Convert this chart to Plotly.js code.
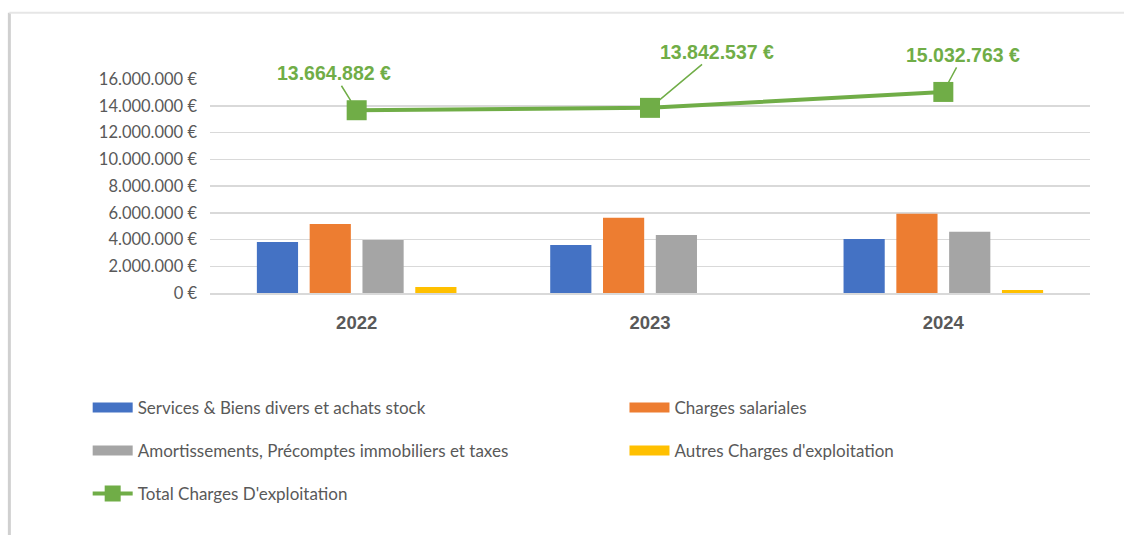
<!DOCTYPE html>
<html>
<head>
<meta charset="utf-8">
<script src="https://cdn.plot.ly/plotly-3.0.1.min.js"></script>
<style>html,body{margin:0;padding:0;background:#fff;}#chart{width:1124px;height:535px;}</style>
</head>
<body>
<div id="chart"></div>
<script>
const years = ['2022', '2023', '2024'];
const services = [3810000, 3590000, 4040000];
const salariales = [5160000, 5630000, 5930000];
const amortissements = [3960000, 4340000, 4580000];
const autres = [450000, 0, 220000];
const totals = [13664882, 13842537, 15032763];
const seriesNames = [
  'Services & Biens divers et achats stock',
  'Charges salariales',
  'Amortissements, Précomptes immobiliers et taxes',
  "Autres Charges d'exploitation",
  "Total Charges D'exploitation"
];
const tickVals = [0, 2000000, 4000000, 6000000, 8000000, 10000000, 12000000, 14000000, 16000000];
const labelOffsets = [[-23, -37], [67, -56], [20, -37]];

function fmt(v) {
  return String(Math.round(v)).replace(/\B(?=(\d{3})+(?!\d))/g, '.') + ' €';
}

const colors = ['#4472C4', '#ED7D31', '#A5A5A5', '#FFC000'];
const barData = [services, salariales, amortissements, autres];
const legendIds = ['legend', 'legend2', 'legend3', 'legend4', 'legend5'];

const traces = barData.map((vals, i) => ({
  type: 'bar', x: years, y: vals, name: seriesNames[i],
  marker: {color: colors[i]}, showlegend: false, hoverinfo: 'skip'
}));
// legend keys for the bar series (wide colour strip, as in the original)
barData.forEach((vals, i) => {
  traces.push({
    type: 'scatter', mode: 'lines', x: [null], y: [null], name: seriesNames[i],
    line: {color: colors[i], width: 10}, legend: legendIds[i], hoverinfo: 'skip'
  });
});
traces.push({
  type: 'scatter', mode: 'lines+markers', x: years, y: totals, name: seriesNames[4],
  line: {color: '#70AD47', width: 4},
  marker: {symbol: 'square', size: 20, color: '#70AD47'},
  legend: legendIds[4], hoverinfo: 'skip'
});

const annotations = totals.map((v, i) => ({
  x: i, y: v, xref: 'x', yref: 'y', text: fmt(v),
  showarrow: true, arrowhead: 0, arrowwidth: 1.5, arrowcolor: '#70AD47',
  ax: labelOffsets[i][0], ay: labelOffsets[i][1], standoff: 11,
  font: {family: 'Liberation Sans, Arial, sans-serif', size: 19.5, color: '#70AD47', weight: 'bold'}
}));

const legendBase = {
  orientation: 'h', xanchor: 'left', yanchor: 'middle',
  font: {family: 'Lato, sans-serif', size: 17, color: '#595959'},
  bgcolor: 'rgba(0,0,0,0)', itemwidth: 40
};
const colX = [-0.139, 0.471];
const rowY = [-0.537, -0.738, -0.939];
const legendPos = [[0, 0], [1, 0], [0, 1], [1, 1], [0, 2]];

const layout = {
  width: 1124, height: 535,
  margin: {l: 210, r: 34, t: 79, b: 242},
  paper_bgcolor: '#ffffff', plot_bgcolor: '#ffffff',
  barmode: 'group', bargap: 0.28, bargroupgap: 0.22,
  showlegend: true,
  xaxis: {
    type: 'category', showgrid: false, showline: true, linecolor: '#d9d9d9', linewidth: 1.5,
    ticks: '', ticklabelstandoff: 12,
    tickfont: {family: 'Liberation Sans, Arial, sans-serif', size: 18.5, color: '#595959', weight: 'bold'}
  },
  yaxis: {
    range: [0, 16000000], tickvals: tickVals, ticktext: tickVals.map(fmt),
    showgrid: true, gridcolor: '#d9d9d9', gridwidth: 1.5, zeroline: false,
    ticks: '', ticklabelstandoff: 12,
    tickfont: {family: 'Lato, sans-serif', size: 16.5, color: '#595959'}
  },
  annotations: annotations,
  shapes: [
    {type: 'line', xref: 'paper', yref: 'paper', x0: -0.228, x1: -0.228, y0: 1.31, y1: -1.14,
     line: {color: '#d0d0d0', width: 3}},
    {type: 'line', xref: 'paper', yref: 'paper', x0: -0.228, x1: 1.04, y0: 1.31, y1: 1.31,
     line: {color: '#e6e6e6', width: 2}}
  ]
};
legendPos.forEach((p, i) => {
  layout[legendIds[i]] = Object.assign({}, legendBase, {x: colX[p[0]], y: rowY[p[1]]});
});

Plotly.newPlot('chart', traces, layout, {displayModeBar: false, staticPlot: true});
</script>
</body>
</html>
